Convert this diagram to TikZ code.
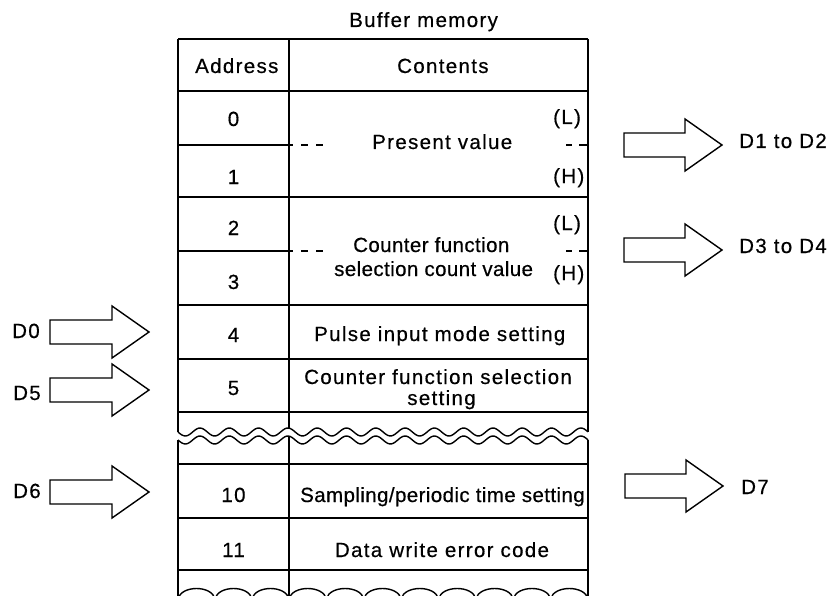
\documentclass[tikz,border=0pt]{standalone}
\usepackage{fontspec}
\setmainfont{Liberation Sans}[LetterSpace=6.5, FakeBold=0.5]
\newfontfamily\tightfont{Liberation Sans}[LetterSpace=2, FakeBold=0.5]
\usetikzlibrary{positioning}

% block arrow: tail x, tip x, middle y
\newcommand{\blkarrow}[3]{%
  \draw[blk] (#1,#3-12) -- (#2-37,#3-12) -- (#2-37,#3-26) -- (#2,#3)
    -- (#2-37,#3+26) -- (#2-37,#3+12) -- (#1,#3+12) -- cycle;}

\begin{document}
\begin{tikzpicture}[
    x=1pt, y=-1pt,
    txt/.style={font=\fontsize{20.5}{22}\selectfont, anchor=base, inner sep=0pt},
    lbl/.style={txt, anchor=base west},
    tight/.style={lbl, font=\fontsize{20.5}{22}\selectfont\tightfont},
    rule/.style={line width=1.4pt},
    blk/.style={line width=1.4pt, line join=miter},
    declare function={wv(\x)=4*sin(12.287*(\x-178));},
]
\clip (0,0) rectangle (837,596);

% table frame, broken at the wavy cut
\foreach \x in {178,289,588} {
  \draw[rule] (\x,39) -- (\x,{432+wv(\x)});
  \draw[rule] (\x,{440+wv(\x)}) -- (\x,600);
}
\foreach \y in {39,91,197,305,359,412,464,518,570}
  \draw[rule] (178,\y) -- (588,\y);
\draw[rule, domain=178:588, samples=220] plot (\x,{432+wv(\x)});
\draw[rule, domain=178:588, samples=220] plot (\x,{440+wv(\x)});

% L/H splits
\foreach \y in {145,251} {
  \draw[rule] (178,\y) -- (293,\y);
  \draw[rule] (301,\y) -- (308,\y) (316,\y) -- (323,\y);
  \draw[rule] (566,\y) -- (572,\y) (579,\y) -- (588,\y);
}

% cut at the bottom
\foreach \x in {178,215,252}
  \draw[rule] (\x,599) .. controls (\x+3,585) and (\x+34,585) .. (\x+37,599);
\foreach \i in {0,...,7}
  \draw[rule] ({289+\i*37.375},599) .. controls ({292+\i*37.375},585)
    and ({323.4+\i*37.375},585) .. ({326.4+\i*37.375},599);

% texts
\node[lbl] (title) at (349,27) {Buffer memory};
\node[lbl] (hadr) at (195,73) {Address};
\node[lbl] (hcnt) at (397,73) {Contents};
\foreach \n/\y in {0/126,1/184,2/235,3/289,4/342,5/395,10/502,11/557}
  \node[txt] (a\n) at (233.5,\y) {\n};

\node[lbl] (pv) at (372,149) {Present value};
\node[lbl] (pvl) at (553,124) {(L)};
\node[lbl] (pvh) at (553,183) {(H)};
\node[tight] (cfa) at (353,252) {Counter function};
\node[tight] (cfb) at (334,276) {selection count value};
\node[lbl] (cfl) at (553,230) {(L)};
\node[lbl] (cfh) at (553,280) {(H)};
\node[lbl] (pim) at (314,341) {Pulse input mode setting};
\node[lbl] (cfs) at (304,384) {Counter function selection};
\node[txt] (cfs2) at (441.5,405) {setting};
\node[tight] (spt) at (300,502) {Sampling/periodic time setting};
\node[txt] (dwe) at (442,557) {Data write error code};

% devices
\blkarrow{624}{722}{145}
\blkarrow{624}{722}{250}
\blkarrow{625}{723}{486}
\blkarrow{50}{149}{332}
\blkarrow{50}{149}{390}
\blkarrow{50}{149}{492}
\node[lbl] (d12) at (739,148) {D1 to D2};
\node[lbl] (d34) at (739,253) {D3 to D4};
\node[lbl] (d7) at (741,494) {D7};
\node[lbl] (d0) at (12,338) {D0};
\node[lbl] (d5) at (13,400) {D5};
\node[lbl] (d6) at (13,498) {D6};
\end{tikzpicture}
\end{document}
